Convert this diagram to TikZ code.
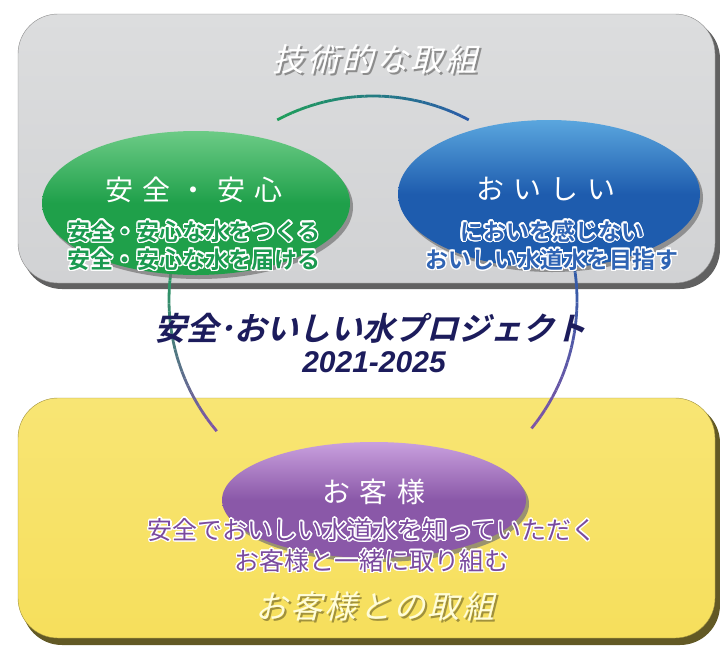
\documentclass[tikz,border=0pt]{standalone}
\usepackage{fontspec}
\setmainfont{Noto Sans CJK JP}
\newfontfamily\jpfont{Noto Sans CJK JP}
\newfontfamily\jpbold{Noto Sans CJK JP Bold}
\newfontfamily\jpwide[LetterSpace=33]{Noto Sans CJK JP}
\newfontfamily\jpslant[FakeSlant=0.25,LetterSpace=8]{Noto Sans CJK JP}
\newfontfamily\jpboldslant[FakeSlant=0.25]{Noto Sans CJK JP Bold}
\newfontfamily\numfont{Liberation Sans}
\usepackage{contour}
\contourlength{1.4pt}
\usetikzlibrary{shapes.geometric,shadows}

\definecolor{safegreen}{HTML}{1FA04A}
\definecolor{safegreenlight}{HTML}{6CCB86}
\definecolor{safegreentext}{HTML}{1B9A50}
\definecolor{tasteblue}{HTML}{1E5CAE}
\definecolor{tastebluelight}{HTML}{5AA6DE}
\definecolor{tastebluetext}{HTML}{2F64B4}
\definecolor{custpurple}{HTML}{8A58A8}
\definecolor{custpurplelight}{HTML}{C9A0DE}
\definecolor{custpurpletext}{HTML}{7A4A9E}
\definecolor{projnavy}{HTML}{1C1C5C}
\definecolor{boxgray}{HTML}{D1D2D4}
\definecolor{boxgraylight}{HTML}{DCDDDE}
\definecolor{boxyellow}{HTML}{F6DF5C}
\definecolor{boxyellowlight}{HTML}{F8E574}
\definecolor{ringgreen}{HTML}{1E9E5A}
\definecolor{ringblue}{HTML}{2A5CA8}
\definecolor{ringpurple}{HTML}{7E56A6}

\newcommand{\shadowtext}[2]{\makebox[0pt][l]{\hspace{2pt}\raisebox{-2pt}{\textcolor{#2}{#1}}}#1}

% gradient arc of the ring: start angle, end angle, first colour, last colour
\newcommand{\ringarc}[4]{%
  \foreach \i in {0,...,23}{%
    \pgfmathsetmacro{\angA}{#1+(#2-#1)*\i/24}%
    \pgfmathsetmacro{\angB}{#1+(#2-#1)*(\i+1)/24}%
    \pgfmathtruncatemacro{\mix}{100-100*\i/23}%
    \draw[ringline,draw=#3!\mix!#4] ([shift={(\angA:204)}]ring) arc[start angle=\angA, end angle=\angB, radius=204];
  }}

\begin{document}
\begin{tikzpicture}[x=1pt,y=-1pt,
  ringline/.style={line width=2.8pt},
  bubble/.style={ellipse,inner sep=0pt,drop shadow={shadow xshift=3pt,shadow yshift=-4pt,fill=black!55,opacity=.7}},
  headtext/.style={text=white,font=\jpwide\fontsize{28pt}{30pt}\selectfont},
  subtext/.style={align=center,font=\jpbold\fontsize{23pt}{28pt}\selectfont},
  areatitle/.style={text=white,font=\jpslant\fontsize{32pt}{34pt}\selectfont}]
\useasboundingbox (0,0) rectangle (720,646);

% boxes
\path[fill=black!62,rounded corners=40pt] (22,19) rectangle (720,289);
\path[top color=boxgraylight,bottom color=boxgray,draw=black!45,rounded corners=40pt] (18,14) rectangle (715,283);
\path[fill=black!60!boxyellow,rounded corners=40pt] (22,403) rectangle (720,645);
\path[top color=boxyellowlight,bottom color=boxyellow,draw=black!35!boxyellow,rounded corners=40pt] (18,398) rectangle (715,638);

% ring
\coordinate (ring) at (373,300);
\ringarc{-118}{-62}{ringgreen}{ringblue}
\ringarc{192}{140}{ringgreen}{ringpurple}
\ringarc{-12}{39}{ringblue}{ringpurple}

% bubbles
\node[bubble,minimum width=308pt,minimum height=144pt,top color=safegreenlight,bottom color=safegreen,middle color=safegreen] (safe) at (196,203) {};
\node[bubble,minimum width=302pt,minimum height=148pt,top color=tastebluelight,bottom color=tasteblue,middle color=tasteblue] (taste) at (549,194) {};
\node[bubble,minimum width=304pt,minimum height=116pt,top color=custpurplelight,bottom color=custpurple,middle color=custpurple] (cust) at (374,500) {};

% texts
\node[areatitle] (techtitle) at (375,60) {\shadowtext{技術的な取組}{black!45}};
\node[areatitle,text=white!85!yellow] (custtitle) at (375,607) {\shadowtext{お客様との取組}{black!35!boxyellow}};

\node[headtext] (safehead) at (194,190) {安全・安心};
\node[subtext,text=safegreentext] (safesub) at (194,246) {\contour{white}{安全・安心な水をつくる}\\\contour{white}{安全・安心な水を届ける}};
\node[headtext] (tastehead) at (546,189) {おいしい};
\node[subtext,text=tastebluetext] (tastesub) at (552,246) {\contour{white}{においを感じない}\\\contour{white}{おいしい水道水を目指す}};
\node[headtext] (custhead) at (374,492) {お客様};
\node[subtext,font=\jpfont\fontsize{25pt}{31pt}\selectfont,text=custpurpletext] (custsub) at (372,546) {\contour{white}{安全でおいしい水道水を知っていただく}\\\contour{white}{お客様と一緒に取り組む}};

\node[text=projnavy,font=\jpboldslant\fontsize{32pt}{34pt}\selectfont] (project) at (370,328) {安全･おいしい水プロジェクト};
\node[text=projnavy,font=\numfont\bfseries\itshape\fontsize{30pt}{32pt}\selectfont] (period) at (374,362) {2021-2025};
\end{tikzpicture}
\end{document}
